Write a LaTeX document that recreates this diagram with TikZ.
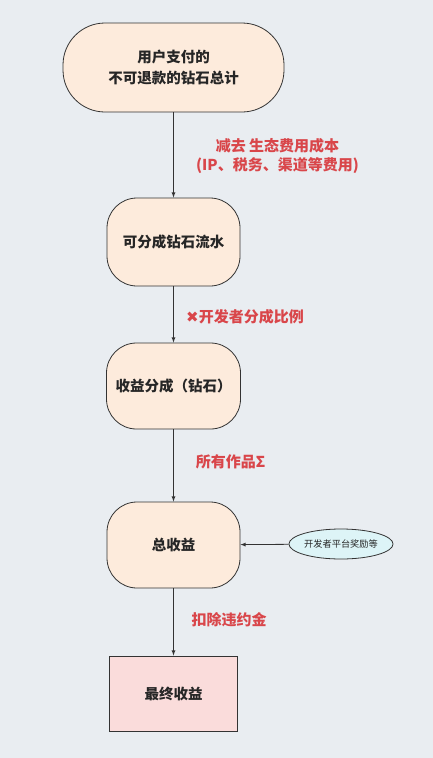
\documentclass[tikz,border=0pt]{standalone}
\usepackage{fontspec}
\setmainfont{Noto Sans CJK SC}
\newfontfamily\symfont{DejaVu Sans}
\usepackage{tikz}
\usetikzlibrary{shapes.geometric}
\definecolor{bgcol}{HTML}{E9EDF1}
\definecolor{peach}{HTML}{FDEBDC}
\definecolor{pinkbox}{HTML}{FADCDB}
\definecolor{cyanell}{HTML}{DDF4F7}
\definecolor{labred}{HTML}{D9464A}
\definecolor{linecol}{HTML}{333333}
\tikzstyle{stepnode}=[draw=linecol,fill=peach,line width=0.8pt,rounded corners=30pt,inner sep=0pt,align=center,font=\fontsize{14.5}{21}\selectfont\bfseries,text=black!85]
\tikzstyle{finalbox}=[draw=linecol,fill=pinkbox,line width=0.8pt,inner sep=0pt,font=\fontsize{14.5}{21}\selectfont\bfseries,text=black!85]
\tikzstyle{bonus}=[draw=linecol,fill=cyanell,line width=0.8pt,ellipse,inner sep=0pt,font=\fontsize{9.2}{12}\selectfont,text=black!85]
\tikzstyle{redlabel}=[text=labred,align=center,font=\fontsize{15}{19}\selectfont\bfseries]
\tikzstyle{flow}=[draw=linecol,line width=0.8pt,-latex]

\begin{document}
\begin{tikzpicture}[x=1pt,y=-1pt]  % flow of the revenue

\fill[bgcol] (0,0) rectangle (433,758);
\useasboundingbox (0,0) rectangle (433,758);

\node[stepnode,rounded corners=42pt,minimum width=221pt,minimum height=89pt] (total) at (173.5,67.5) {用户支付的\\不可退款的钻石总计};
\node[stepnode,minimum width=133pt,minimum height=88pt] (flowing) at (173.5,242) {可分成钻石流水};
\node[stepnode,minimum width=134pt,minimum height=86pt] (share) at (173.5,386) {收益分成（钻石）};
\node[stepnode,minimum width=133pt,minimum height=86pt] (income) at (173.5,545) {总收益};
\node[finalbox,minimum width=128pt,minimum height=75pt] (final) at (173.5,693.5) {最终收益};
\node[bonus,minimum width=96pt,minimum height=30pt] (reward) at (341,544) {开发者平台奖励等};

\draw[flow] (total) -- (flowing);
\draw[flow] (flowing) -- (share);
\draw[flow] (share) -- (income);
\draw[flow] (income) -- (final);
\draw[flow] (reward) -- (income);

\node[redlabel] (costs) at (277.5,156) {减去 生态费用成本\\(IP、税务、渠道等费用)};
\node[redlabel] (ratio) at (245,317) {{\symfont ✖}开发者分成比例};
\node[redlabel] (works) at (230.5,462) {所有作品Σ};
\node[redlabel] (penalty) at (229,620) {扣除违约金};

\end{tikzpicture}
\end{document}
